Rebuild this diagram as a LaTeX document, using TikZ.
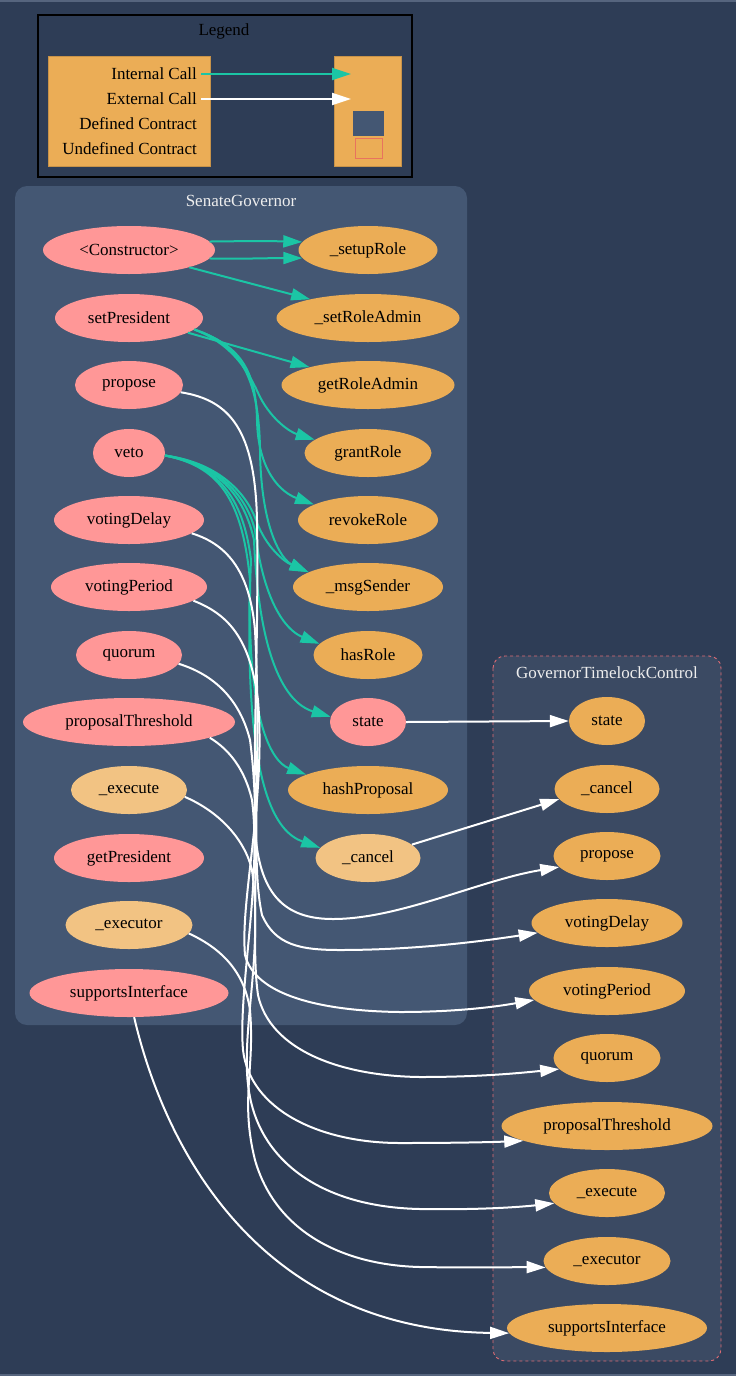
\documentclass[tikz,border=0pt]{standalone}
\usepackage{fontspec}
\setmainfont{Liberation Serif}
\usetikzlibrary{shapes.geometric,arrows.meta}
\definecolor{bgc}{HTML}{2E3D56}
\definecolor{sgc}{HTML}{445773}
\definecolor{gtc}{HTML}{3B4A63}
\definecolor{pinkc}{HTML}{FF9797}
\definecolor{orc}{HTML}{EBAD56}
\definecolor{ltc}{HTML}{F2C383}
\definecolor{tealc}{HTML}{1BC5A5}
\definecolor{dashc}{HTML}{E06C75}
\definecolor{sqc}{HTML}{E8735E}
\definecolor{titc}{HTML}{EEEEEE}
\definecolor{framec}{HTML}{56657E}
\newcommand{\nfont}{\fontsize{17pt}{20pt}\selectfont}
\tikzset{
  fn/.style={ellipse, minimum height=48pt, inner sep=0pt, font=\nfont, text=black},
  pubfn/.style={fn, fill=pinkc},
  orfn/.style={fn, fill=orc},
  ltfn/.style={fn, fill=ltc},
  tip/.style={-{Triangle[length=19pt,width=12pt]}},
  callint/.style={tip, draw=tealc, line width=2pt},
  callext/.style={tip, draw=white, line width=2pt},
  ctitle/.style={font=\nfont, text=titc},
  ltext/.style={font=\nfont, text=black, anchor=east, inner sep=0pt}
}
\begin{document}
\begin{tikzpicture}[x=1pt,y=-1pt]
\useasboundingbox (0,0) rectangle (736,1376);
\fill[bgc] (0,0) rectangle (736,1376);
\fill[framec] (0,0) rectangle (736,2);
\fill[framec] (0,1374) rectangle (736,1376);

% Legend
\draw[black, line width=1.2pt] (38,15) rectangle (412,177);
\node[font=\nfont, text=black] (legt) at (224,31) {Legend};
\draw[fill=orc, draw=orc!85!black, line width=0.5pt] (48,56) rectangle (210,166);
\draw[fill=orc, draw=orc!85!black, line width=0.5pt] (334,56) rectangle (401,166);
\node[ltext] (lint) at (197,74) {Internal Call};
\node[ltext] (lext) at (197,99) {External Call};
\node[ltext] (ldef) at (197,124) {Defined Contract};
\node[ltext] (lund) at (197,149) {Undefined Contract};
\coordinate (lintend) at (351,74);
\coordinate (lextend) at (351,99);
\draw[callint] (lint.east) ++(4,0) -- (lintend);
\draw[callext] (lext.east) ++(4,0) -- (lextend);
\fill[sgc] (353,111) rectangle (384,136);
\draw[sqc, line width=0.8pt] (355,138) rectangle (382,158);

% Clusters
\fill[sgc, rounded corners=12pt] (15,186) rectangle (467,1025);
\node[ctitle] (sgt) at (241,201) {SenateGovernor};
\draw[dashc, fill=gtc, dashed, line width=0.9pt, rounded corners=12pt] (493,656) rectangle (721,1361);
\node[ctitle] (gtt) at (607,673) {GovernorTimelockControl};

% Left column
\node[pubfn, minimum width=172pt] (ctor) at (129,250) {<Constructor>};
\node[pubfn, minimum width=148pt] (sp) at (129,318) {setPresident};
\node[pubfn, minimum width=108pt] (prop) at (129,385) {propose};
\node[pubfn, minimum width=72pt] (veto) at (129,453) {veto};
\node[pubfn, minimum width=150pt] (vd) at (129,520) {votingDelay};
\node[pubfn, minimum width=156pt] (vp) at (129,587) {votingPeriod};
\node[pubfn, minimum width=106pt] (q) at (129,655) {quorum};
\node[pubfn, minimum width=212pt] (pt) at (129,722) {proposalThreshold};
\node[ltfn, minimum width=116pt] (ex) at (129,790) {\_execute};
\node[pubfn, minimum width=150pt] (gp) at (129,858) {getPresident};
\node[ltfn, minimum width=127pt] (exr) at (129,925) {\_executor};
\node[pubfn, minimum width=199pt] (si) at (129,993) {supportsInterface};

% Right column of SenateGovernor
\node[orfn, minimum width=139pt] (setup) at (368,250) {\_setupRole};
\node[orfn, minimum width=183pt] (sra) at (368,318) {\_setRoleAdmin};
\node[orfn, minimum width=173pt] (gra) at (368,385) {getRoleAdmin};
\node[orfn, minimum width=127pt] (grant) at (368,453) {grantRole};
\node[orfn, minimum width=140pt] (rev) at (368,520) {revokeRole};
\node[orfn, minimum width=150pt] (msg) at (368,587) {\_msgSender};
\node[orfn, minimum width=109pt] (hr) at (368,655) {hasRole};
\node[pubfn, minimum width=76pt] (vst) at (368,722) {state};
\node[orfn, minimum width=160pt] (hp) at (368,790) {hashProposal};
\node[ltfn, minimum width=105pt] (cancel) at (368,858) {\_cancel};

% GovernorTimelockControl
\node[orfn, minimum width=76pt] (gstate) at (607,721) {state};
\node[orfn, minimum width=105pt] (gcancel) at (607,789) {\_cancel};
\node[orfn, minimum width=107pt] (gprop) at (607,856) {propose};
\node[orfn, minimum width=151pt] (gvd) at (607,923) {votingDelay};
\node[orfn, minimum width=156pt] (gvp) at (607,991) {votingPeriod};
\node[orfn, minimum width=107pt] (gq) at (607,1058) {quorum};
\node[orfn, minimum width=211pt] (gpt) at (607,1126) {proposalThreshold};
\node[orfn, minimum width=116pt] (gex) at (607,1193) {\_execute};
\node[orfn, minimum width=127pt] (gexr) at (607,1261) {\_executor};
\node[orfn, minimum width=200pt] (gsi) at (607,1328) {supportsInterface};

% Internal calls
\draw[callint] (ctor.6) .. controls (250,241) and (270,241) .. (setup.173);
\draw[callint] (ctor.-6) .. controls (250,259) and (270,258) .. (setup.187);
\draw[callint] (ctor.-16) -- (sra.162);
\draw[callint] (sp.-14) -- (gra.163);
\draw[callint] (sp.-10) .. controls (235,345) and (250,375) .. (260,397) .. controls (272,420) and (290,432) .. (grant.166);
\draw[callint] (sp.-10) .. controls (240,345) and (256,370) .. (257,420) .. controls (258,470) and (280,492) .. (rev.164);
\draw[callint] (sp.-10) .. controls (242,345) and (259,380) .. (260,450) .. controls (261,530) and (282,560) .. (msg.166);
\draw[callint] (veto.-4) .. controls (215,462) and (245,490) .. (256,520) .. controls (266,548) and (285,562) .. (msg.166);
\draw[callint] (veto.-4) .. controls (215,463) and (245,492) .. (255,530) .. controls (263,600) and (285,630) .. (hr.167);
\draw[callint] (veto.-4) .. controls (216,464) and (244,494) .. (254,540) .. controls (260,680) and (295,706) .. (vst.172);
\draw[callint] (veto.-4) .. controls (216,465) and (243,495) .. (251,560) .. controls (244,720) and (272,762) .. (hp.166);
\draw[callint] (veto.-4) .. controls (217,466) and (242,496) .. (250,580) .. controls (244,790) and (276,832) .. (cancel.168);

% External calls
\draw[callext] (vst.0) -- (gstate.180);
\draw[callext] (cancel.17) -- (gcancel.192);
\draw[callext] (prop.-8) .. controls (230,400) and (255,430) .. (257,520) .. controls (259,640) and (252,760) .. (256,840) .. controls (262,900) and (290,919) .. (333,919) .. controls (400,919) and (480,880) .. (gprop.193);
\draw[callext] (vd.-12) .. controls (230,545) and (250,575) .. (255,630) .. controls (262,760) and (250,860) .. (262,915) .. controls (275,945) and (300,950) .. (340,950) .. controls (420,950) and (490,940) .. (gvd.188);
\draw[callext] (vp.-12) .. controls (230,615) and (250,640) .. (258,700) .. controls (266,800) and (240,900) .. (245,955) .. controls (255,995) and (320,1011) .. (400,1012) .. controls (460,1012) and (500,1006) .. (gvp.187);
\draw[callext] (q.-10) .. controls (215,675) and (240,700) .. (250,740) .. controls (262,830) and (250,940) .. (258,995) .. controls (270,1050) and (340,1076) .. (420,1077) .. controls (480,1077) and (520,1073) .. (gq.193);
\draw[callext] (pt.-11) .. controls (230,750) and (245,770) .. (252,800) .. controls (262,880) and (238,990) .. (243,1050) .. controls (250,1110) and (320,1143) .. (400,1143) .. controls (460,1143) and (495,1142) .. (gpt.190);
\draw[callext] (ex.-7) .. controls (220,812) and (245,840) .. (252,870) .. controls (264,960) and (238,1040) .. (250,1097) .. controls (262,1160) and (320,1207) .. (420,1209) .. controls (480,1210) and (520,1207) .. (gex.191);
\draw[callext] (exr.-8) .. controls (225,950) and (245,975) .. (250,1010) .. controls (255,1070) and (240,1100) .. (255,1160) .. controls (275,1230) and (340,1265) .. (420,1267) .. controls (480,1268) and (520,1267) .. (gexr.186);
\draw[callext] (si.-78) .. controls (165,1150) and (260,1330) .. (gsi.183);
\end{tikzpicture}
\end{document}
